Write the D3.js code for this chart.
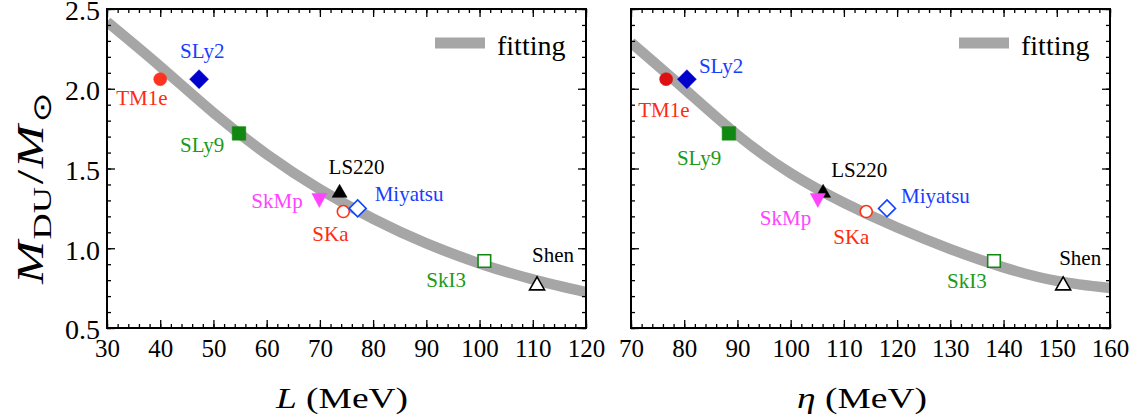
<!DOCTYPE html>
<html><head><meta charset="utf-8">
<script src="https://cdn.jsdelivr.net/npm/d3@7"></script>
<style>
body{margin:0;background:#fff;}
svg{display:block;}
</style></head>
<body><svg id="c" width="1141" height="420" font-family="Liberation Serif"></svg>
<script>
// ---- data ----
const names   = ["TM1e","SLy2","SLy9","LS220","SkMp","SKa","Miyatsu","SkI3","Shen"];
const Lvals   = [40.0, 47.3, 54.8, 73.7, 69.9, 74.4, 77.1, 100.9, 110.8];
const etaVals = [76.6, 80.5, 88.4, 106.1, 105.1, 114.2, 118.1, 138.2, 151.2];
const Mdu     = [2.06, 2.06, 1.72, 1.36, 1.30, 1.23, 1.25, 0.92, 0.78];
const fitL    = [30, 40, 50, 60, 70, 80, 90, 100, 110, 120];
const fitLM   = [2.42, 2.14, 1.85, 1.59, 1.37, 1.185, 1.03, 0.905, 0.805, 0.725];
const fitEta  = [70, 80, 90, 100, 110, 120, 130, 140, 150, 160];
const fitEtaM = [2.29, 2.00, 1.71, 1.47, 1.285, 1.13, 0.995, 0.88, 0.795, 0.75];
const xTicksL   = [30,40,50,60,70,80,90,100,110,120];
const xTicksEta = [70,80,90,100,110,120,130,140,150,160];
const yTicks    = [0.5,1.0,1.5,2.0,2.5];

// ---- styles ----
const FONT = "Liberation Serif";
const shapes  = ["circle","diamond","square","triUp","triDown","circle","diamond","square","triUp"];
const filled  = [true,true,true,true,true,false,false,false,false];
const markCol = [["#ff3322","#dd1111"],["#0000cc","#0000cc"],["#118811","#118811"],["#000","#000"],["#ff44ff","#ff44ff"],["#ff3311","#ff3311"],["#1144ff","#1144ff"],["#118811","#118811"],["#000","#000"]];
const labCol  = ["#ff2a10","#1a3cff","#1a9a1a","#000","#ff44ff","#ff2a10","#1a3cff","#1a9a1a","#000"];
const offL   = [[-44,26],[-19,-21],[-59,19],[-11,-17],[-68,8],[-31,29],[17,-7],[-58,26],[-5,-21]];
const offEta = [[-28,38],[12,-6],[-52,32],[8,-14],[-58,25],[-33,32],[14,-5],[-47,27],[-4,-18]];

const svg = d3.select("#c");
const yTop = 9, yBot = 328;
const y = d3.scaleLinear().domain([0.5,2.5]).range([yBot, yTop]);

function shapePath(s, fill){
  if (s==="circle") { const r = fill?6.5:6; return `M${-r},0A${r},${r},0,1,0,${r},0A${r},${r},0,1,0,${-r},0Z`; }
  if (s==="diamond"){ const d = fill?9.5:8.5; return `M0,${-d}L${d},0L0,${d}L${-d},0Z`; }
  if (s==="square") { const h = fill?6.8:6.3; return `M${-h},${-h}H${h}V${h}H${-h}Z`; }
  if (s==="triUp")  { const w=7.5,h=6.5; return `M0,${-h}L${w},${h}L${-w},${h}Z`; }
  if (s==="triDown"){ const w=7.5,h=7; return `M0,${h}L${w},${-h}L${-w},${-h}Z`; }
}

function panel(x0, x1, domain, ticks, xv, fx, fy, off, pi, legX){
  const x = d3.scaleLinear().domain(domain).range([x0, x1]);
  const g = svg.append("g");
  const cid = "clip"+pi;
  g.append("clipPath").attr("id",cid).append("rect").attr("x",x0).attr("y",yTop).attr("width",x1-x0).attr("height",yBot-yTop);

  const line = d3.line().x((d,i)=>x(fx[i])).y((d,i)=>y(fy[i])).curve(d3.curveNatural);
  g.append("path").attr("d", line(fx)).attr("fill","none").attr("stroke","#a6a6a6").attr("stroke-width",10.5).attr("clip-path",`url(#${cid})`);

  const minorX = d3.range(domain[0], domain[1]+0.001, 2);
  const minorY = d3.range(0.5, 2.5001, 0.1);
  g.append("g").attr("transform",`translate(0,${yBot})`).call(d3.axisBottom(x).tickValues(minorX).tickSize(-4).tickFormat(""));
  g.append("g").attr("transform",`translate(0,${yBot})`).call(d3.axisBottom(x).tickValues(ticks).tickSize(-8).tickFormat(""));
  g.append("g").attr("transform",`translate(0,${yTop})`).call(d3.axisTop(x).tickValues(minorX).tickSize(-4).tickFormat(""));
  g.append("g").attr("transform",`translate(0,${yTop})`).call(d3.axisTop(x).tickValues(ticks).tickSize(-8).tickFormat(""));
  g.append("g").attr("transform",`translate(${x0},0)`).call(d3.axisLeft(y).tickValues(minorY).tickSize(-4).tickFormat(""));
  g.append("g").attr("transform",`translate(${x0},0)`).call(d3.axisLeft(y).tickValues(yTicks).tickSize(-8).tickFormat(""));
  g.append("g").attr("transform",`translate(${x1},0)`).call(d3.axisRight(y).tickValues(minorY).tickSize(-4).tickFormat(""));
  g.append("g").attr("transform",`translate(${x1},0)`).call(d3.axisRight(y).tickValues(yTicks).tickSize(-8).tickFormat(""));
  g.selectAll(".domain").remove();
  g.selectAll(".tick line").attr("stroke","#000").attr("stroke-width",1.3);
  g.append("rect").attr("x",x0).attr("y",yTop).attr("width",x1-x0).attr("height",yBot-yTop).attr("fill","none").attr("stroke","#000").attr("stroke-width",2);

  const xl = d3.axisBottom(x).tickValues(ticks).tickSize(0).tickPadding(0);
  const xg = g.append("g").attr("transform",`translate(0,${yBot})`).call(xl);
  xg.select(".domain").remove();
  xg.attr("font-family",FONT);
  xg.selectAll("text").attr("y",29).attr("dy",null).attr("font-size",25).attr("fill","#000");

  g.append("line").attr("x1",legX).attr("x2",legX+50).attr("y1",43).attr("y2",43).attr("stroke","#a6a6a6").attr("stroke-width",11);
  g.append("text").attr("x",legX+62).attr("y",55).attr("font-size",28).attr("font-family",FONT).text("fitting");

  names.forEach((n,i)=>{
    const cx = x(xv[i]), cy = y(Mdu[i]);
    const c = markCol[i][pi];
    g.append("path").attr("d",shapePath(shapes[i],filled[i])).attr("transform",`translate(${cx},${cy})`)
      .attr("fill", filled[i]?c:"#fff").attr("stroke",c).attr("stroke-width",filled[i]?0.5:1.6);
    g.append("text").attr("x",cx+off[i][0]).attr("y",cy+off[i][1]).attr("font-size",21).attr("font-family",FONT).attr("fill",labCol[i]).text(n);
  });
}

panel(107, 586, [30,120], xTicksL, Lvals, fitL, fitLM, offL, 0, 435);
panel(631, 1110, [70,160], xTicksEta, etaVals, fitEta, fitEtaM, offEta, 1, 959);

const yl = svg.append("g").attr("transform","translate(107,2)").call(d3.axisLeft(y).tickValues(yTicks).tickSize(0).tickPadding(7).tickFormat(d3.format(".1f")));
yl.select(".domain").remove();
yl.attr("font-family",FONT);
yl.selectAll("text").attr("font-size",28).attr("fill","#000");

const t1 = svg.append("text").attr("transform","translate(342,408) scale(1.25,1)").attr("text-anchor","middle").attr("font-size",30).attr("font-family",FONT);
t1.append("tspan").attr("font-style","italic").text("L");
t1.append("tspan").text(" (MeV)");
const t2 = svg.append("text").attr("transform","translate(862,408) scale(1.25,1)").attr("text-anchor","middle").attr("font-size",30).attr("font-family",FONT);
t2.append("tspan").attr("font-style","italic").text("η");
t2.append("tspan").text(" (MeV)");

const yt = svg.append("text").attr("transform","translate(43,188) rotate(-90) scale(1.4,1)").attr("text-anchor","middle").attr("font-size",37).attr("font-family",FONT);
yt.append("tspan").attr("font-style","italic").text("M");
yt.append("tspan").attr("font-size",26).attr("dy",8).attr("dx",1).text("DU");
yt.append("tspan").attr("dy",-8).attr("dx",2).text("/");
yt.append("tspan").attr("font-style","italic").attr("dx",1).text("M");
yt.append("tspan").attr("font-size",26).attr("dy",8).attr("dx",2).attr("font-family","DejaVu Sans").text("⊙");
</script></body></html>
